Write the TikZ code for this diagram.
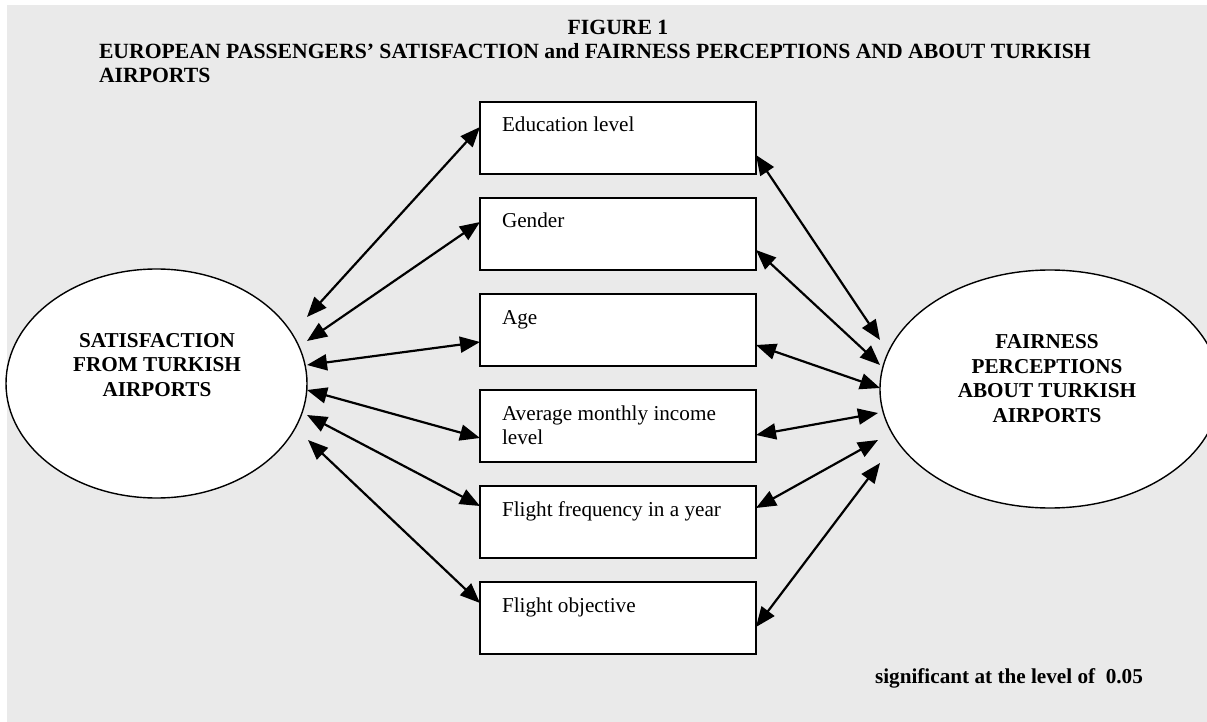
\documentclass[tikz,border=0pt]{standalone}
\usepackage{fontspec}
\setmainfont{Liberation Serif}
\usetikzlibrary{arrows.meta,shapes.geometric}
\definecolor{bggray}{RGB}{234,234,234}
\begin{document}
\begin{tikzpicture}[x=1pt,y=-1pt,
  every node/.style={inner sep=0pt, outer sep=0pt},
  varbox/.style={draw, fill=white, line width=1.6pt, minimum width=276pt, minimum height=72pt, anchor=north west},
  oval/.style={ellipse, draw, fill=white, line width=1.4pt},
  boxtxt/.style={anchor=base west, font=\fontsize{21.2}{24}\selectfont},
  boldtxt/.style={font=\fontsize{21.2}{24}\selectfont\bfseries},
  titletxt/.style={font=\fontsize{21.7}{24}\selectfont\bfseries},
  headtip/.tip={Triangle[length=20pt 0 0,width=16pt 0 0]},
  link/.style={line width=2.2pt, headtip-headtip}
]
\useasboundingbox (0,0) rectangle (1207,722);
\fill[white] (0,0) rectangle (1207,722);
\fill[bggray] (7,5) rectangle (1207,722);

% title
\node[titletxt, anchor=base] (fig) at (618,35) {FIGURE 1};
\node[titletxt, anchor=base west] (t2) at (99,59) {EUROPEAN PASSENGERS’ SATISFACTION and FAIRNESS PERCEPTIONS AND ABOUT TURKISH};
\node[titletxt, anchor=base west] (t3) at (99,83) {AIRPORTS};

% ellipses
\node[oval, minimum width=301pt, minimum height=229pt] (sat) at (156.5,383.5) {};
\node[boldtxt, anchor=base] (s1) at (157,347) {SATISFACTION};
\node[boldtxt, anchor=base] (s2) at (157,371) {FROM TURKISH};
\node[boldtxt, anchor=base] (s3) at (157,396) {AIRPORTS};

\node[oval, minimum width=340pt, minimum height=238pt] (fair) at (1050,389) {};
\node[boldtxt, anchor=base] (f1) at (1047,348) {FAIRNESS};
\node[boldtxt, anchor=base] (f2) at (1047,373) {PERCEPTIONS};
\node[boldtxt, anchor=base] (f3) at (1047,397) {ABOUT TURKISH};
\node[boldtxt, anchor=base] (f4) at (1047,422) {AIRPORTS};

% boxes
\node[varbox] (edu) at (480,102) {};
\node[boxtxt] (eduT) at (502,132) {Education level};
\node[varbox] (gen) at (480,198) {};
\node[boxtxt] (genT) at (502,228) {Gender};
\node[varbox] (age) at (480,294) {};
\node[boxtxt] (ageT) at (502,324) {Age};
\node[varbox] (inc) at (480,390) {};
\node[boxtxt] (incT) at (502,420) {Average monthly income};
\node[boxtxt] (incT2) at (502,444) {level};
\node[varbox] (frq) at (480,486) {};
\node[boxtxt] (frqT) at (502,516) {Flight frequency in a year};
\node[varbox] (obj) at (480,582) {};
\node[boxtxt] (objT) at (502,612) {Flight objective};

% arrow ends near ellipses
\coordinate (sa1) at (307,317);
\coordinate (sa2) at (307,341);
\coordinate (sa3) at (307,365);
\coordinate (sa4) at (307,390);
\coordinate (sa5) at (307,415);
\coordinate (sa6) at (308,440);
\coordinate (fa1) at (880,340);
\coordinate (fa2) at (880,365);
\coordinate (fa3) at (880,388);
\coordinate (fa4) at (878,413);
\coordinate (fa5) at (878,440);
\coordinate (fa6) at (880,463);

% left connectors
\draw[link] (sa1) -- ([yshift=-25pt]edu.north west);
\draw[link] (sa2) -- ([yshift=-24pt]gen.north west);
\draw[link] (sa3) -- ([yshift=-48pt]age.north west);
\draw[link] (sa4) -- ([yshift=-48pt]inc.north west);
\draw[link] (sa5) -- ([yshift=-20pt]frq.north west);
\draw[link] (sa6) -- ([yshift=-21pt]obj.north west);

% right connectors
\draw[link] ([yshift=-53pt]edu.north east) -- (fa1);
\draw[link] ([yshift=-52pt]gen.north east) -- (fa2);
\draw[link] ([yshift=-51pt]age.north east) -- (fa3);
\draw[link] ([yshift=-45pt]inc.north east) -- (fa4);
\draw[link] ([yshift=-22pt]frq.north east) -- (fa5);
\draw[link] ([yshift=-45pt]obj.north east) -- (fa6);

\node[boldtxt, anchor=base west] (sig) at (875,683) {significant at the level of\ \ 0.05};
\end{tikzpicture}
\end{document}
